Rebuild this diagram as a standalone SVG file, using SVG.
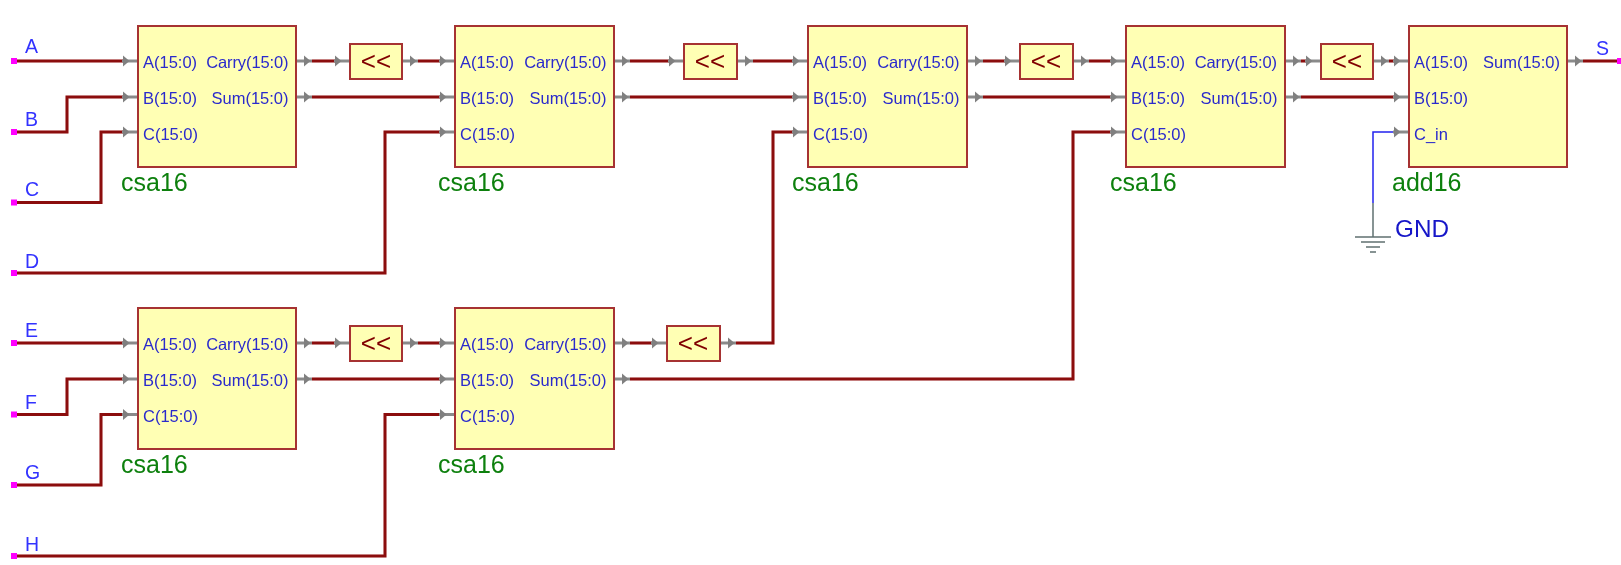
<svg xmlns="http://www.w3.org/2000/svg" width="1621" height="565" viewBox="0 0 1621 565">
<style>
text{font-family:"Liberation Sans",Arial,sans-serif}
svg>g{filter:url(#soft)}
.box{fill:#ffffb4;stroke:#a63030;stroke-width:2}
.port{font-size:16.5px;fill:#2a2acc}
.r{text-anchor:end}
.cy{letter-spacing:-.1px}
.type{font-size:25px;fill:#0c800c}
.sig{font-size:19.5px;fill:#3333ff}
.shl{font-size:26px;fill:#800000;text-anchor:middle}
.w{fill:none;stroke:#8b0a0a;stroke-width:3}
.bw{fill:none;stroke:#2222ee;stroke-width:1.5}
.g{fill:none;stroke:#5f7070;stroke-width:1.5}
.pl{stroke:#8a8a8a;stroke-width:3}
.pt{fill:#808080}
.term{fill:#ff00ff}
</style>
<defs>
<filter id="soft" x="-5%" y="-5%" width="110%" height="110%" filterUnits="objectBoundingBox"><feGaussianBlur stdDeviation="0.4"/></filter>
<g id="pin-in"><line class="pl" x1="-16" y1="0" x2="0" y2="0"/><path class="pt" d="M-15-5.500L-8.500 0L-15 5.500Z"/></g>
<g id="pin-out"><line class="pl" x1="0" y1="0" x2="16" y2="0"/><path class="pt" d="M8-5.500L14.500 0L8 5.500Z"/></g>
<rect id="term" class="term" x="-3" y="-3" width="6" height="6"/>
</defs>
<g id="connectors">
<path class="w" d="M14 61H123"/>
<path class="w" d="M14 132H67V97H123"/>
<path class="w" d="M14 202.500H101V132H123"/>
<path class="w" d="M14 273H385V132H440"/>
<path class="w" d="M14 343H123"/>
<path class="w" d="M14 414.500H67V379H123"/>
<path class="w" d="M14 485H101V414.500H123"/>
<path class="w" d="M14 556H385V414.500H440"/>
<path class="w" d="M312 61H335"/><path class="w" d="M418 61H440"/>
<path class="w" d="M312 97H440"/>
<path class="w" d="M312 343H335"/><path class="w" d="M418 343H440"/>
<path class="w" d="M312 379H440"/>
<path class="w" d="M630 61H669"/><path class="w" d="M753 61H793"/>
<path class="w" d="M630 97H793"/>
<path class="w" d="M630 343H652"/>
<path class="w" d="M736 343H773V132H793"/>
<path class="w" d="M630 379H1073V132H1111"/>
<path class="w" d="M983 61H1005"/><path class="w" d="M1089 61H1111"/>
<path class="w" d="M983 97H1111"/>
<path class="w" d="M1301 61H1306"/><path class="w" d="M1389 61H1394"/>
<path class="w" d="M1301 97H1394"/>
<path class="w" d="M1583 61H1621"/>
<path class="bw" d="M1394 132H1373V203"/>
<path class="g" d="M1373 203V237"/>
<path class="g" d="M1355 237H1391M1361 242H1385M1366 247H1380M1370 252H1376"/>
<use href="#pin-in" x="138" y="61"/><use href="#pin-in" x="138" y="97"/><use href="#pin-in" x="138" y="132"/>
<use href="#pin-out" x="296" y="61"/><use href="#pin-out" x="296" y="97"/>
<use href="#pin-in" x="350" y="61"/><use href="#pin-out" x="402" y="61"/>
<use href="#pin-in" x="455" y="61"/><use href="#pin-in" x="455" y="97"/><use href="#pin-in" x="455" y="132"/>
<use href="#pin-out" x="614" y="61"/><use href="#pin-out" x="614" y="97"/>
<use href="#pin-in" x="684" y="61"/><use href="#pin-out" x="737" y="61"/>
<use href="#pin-in" x="808" y="61"/><use href="#pin-in" x="808" y="97"/><use href="#pin-in" x="808" y="132"/>
<use href="#pin-out" x="967" y="61"/><use href="#pin-out" x="967" y="97"/>
<use href="#pin-in" x="1020" y="61"/><use href="#pin-out" x="1073" y="61"/>
<use href="#pin-in" x="1126" y="61"/><use href="#pin-in" x="1126" y="97"/><use href="#pin-in" x="1126" y="132"/>
<use href="#pin-out" x="1285" y="61"/><use href="#pin-out" x="1285" y="97"/>
<use href="#pin-in" x="1321" y="61"/><use href="#pin-out" x="1373" y="61"/>
<use href="#pin-in" x="1409" y="61"/><use href="#pin-in" x="1409" y="97"/><use href="#pin-in" x="1409" y="132"/>
<use href="#pin-out" x="1567" y="61"/>
<use href="#pin-in" x="138" y="343"/><use href="#pin-in" x="138" y="379"/><use href="#pin-in" x="138" y="414.500"/>
<use href="#pin-out" x="296" y="343"/><use href="#pin-out" x="296" y="379"/>
<use href="#pin-in" x="350" y="343"/><use href="#pin-out" x="402" y="343"/>
<use href="#pin-in" x="455" y="343"/><use href="#pin-in" x="455" y="379"/><use href="#pin-in" x="455" y="414.500"/>
<use href="#pin-out" x="614" y="343"/><use href="#pin-out" x="614" y="379"/>
<use href="#pin-in" x="667" y="343"/><use href="#pin-out" x="720" y="343"/>
</g>
<g id="sig-A"><use href="#term" x="14" y="61"/><text class="sig" x="25" y="53">A</text></g>
<g id="sig-B"><use href="#term" x="14" y="132"/><text class="sig" x="25" y="126">B</text></g>
<g id="sig-C"><use href="#term" x="14" y="202.500"/><text class="sig" x="25" y="196">C</text></g>
<g id="sig-D"><use href="#term" x="14" y="273"/><text class="sig" x="25" y="268">D</text></g>
<g id="sig-E"><use href="#term" x="14" y="343"/><text class="sig" x="25" y="337">E</text></g>
<g id="sig-F"><use href="#term" x="14" y="414.500"/><text class="sig" x="25" y="409">F</text></g>
<g id="sig-G"><use href="#term" x="14" y="485"/><text class="sig" x="25" y="479">G</text></g>
<g id="sig-H"><use href="#term" x="14" y="556"/><text class="sig" x="25" y="551">H</text></g>
<g id="sig-S"><use href="#term" x="1620" y="61"/><text class="sig" x="1596" y="55">S</text></g>
<g id="gnd"><text x="1395" y="237" style="font-size:24.300px;fill:#1414c8">GND</text></g>

<g id="csa1"><rect class="box" x="138" y="26" width="158" height="141"/><text class="port" x="143" y="68">A(15:0)</text><text class="port" x="143" y="104">B(15:0)</text><text class="port" x="143" y="140">C(15:0)</text><text class="port r cy" x="288.500" y="68">Carry(15:0)</text><text class="port r" x="288.500" y="104">Sum(15:0)</text><text class="type" x="121" y="191">csa16</text></g>
<g id="csa2"><rect class="box" x="455" y="26" width="159" height="141"/><text class="port" x="460" y="68">A(15:0)</text><text class="port" x="460" y="104">B(15:0)</text><text class="port" x="460" y="140">C(15:0)</text><text class="port r cy" x="606.500" y="68">Carry(15:0)</text><text class="port r" x="606.500" y="104">Sum(15:0)</text><text class="type" x="438" y="191">csa16</text></g>
<g id="csa3"><rect class="box" x="808" y="26" width="159" height="141"/><text class="port" x="813" y="68">A(15:0)</text><text class="port" x="813" y="104">B(15:0)</text><text class="port" x="813" y="140">C(15:0)</text><text class="port r cy" x="959.500" y="68">Carry(15:0)</text><text class="port r" x="959.500" y="104">Sum(15:0)</text><text class="type" x="792" y="191">csa16</text></g>
<g id="csa4"><rect class="box" x="1126" y="26" width="159" height="141"/><text class="port" x="1131" y="68">A(15:0)</text><text class="port" x="1131" y="104">B(15:0)</text><text class="port" x="1131" y="140">C(15:0)</text><text class="port r cy" x="1277" y="68">Carry(15:0)</text><text class="port r" x="1277.500" y="104">Sum(15:0)</text><text class="type" x="1110" y="191">csa16</text></g>
<g id="add16"><rect class="box" x="1409" y="26" width="158" height="141"/><text class="port" x="1414" y="68">A(15:0)</text><text class="port" x="1414" y="104">B(15:0)</text><text class="port" x="1414" y="140">C_in</text><text class="port r" x="1560" y="68">Sum(15:0)</text><text class="type" x="1392" y="191">add16</text></g>
<g id="csa5"><rect class="box" x="138" y="308" width="158" height="141"/><text class="port" x="143" y="350">A(15:0)</text><text class="port" x="143" y="386">B(15:0)</text><text class="port" x="143" y="422">C(15:0)</text><text class="port r cy" x="288.500" y="350">Carry(15:0)</text><text class="port r" x="288.500" y="386">Sum(15:0)</text><text class="type" x="121" y="473">csa16</text></g>
<g id="csa6"><rect class="box" x="455" y="308" width="159" height="141"/><text class="port" x="460" y="350">A(15:0)</text><text class="port" x="460" y="386">B(15:0)</text><text class="port" x="460" y="422">C(15:0)</text><text class="port r cy" x="606.500" y="350">Carry(15:0)</text><text class="port r" x="606.500" y="386">Sum(15:0)</text><text class="type" x="438" y="473">csa16</text></g>

<g id="shl1"><rect class="box" x="350" y="44" width="52" height="35"/><text class="shl" x="376" y="70">&lt;&lt;</text></g>
<g id="shl2"><rect class="box" x="684" y="44" width="53" height="35"/><text class="shl" x="710" y="70">&lt;&lt;</text></g>
<g id="shl3"><rect class="box" x="1020" y="44" width="53" height="35"/><text class="shl" x="1046" y="70">&lt;&lt;</text></g>
<g id="shl4"><rect class="box" x="1321" y="44" width="52" height="35"/><text class="shl" x="1347" y="70">&lt;&lt;</text></g>
<g id="shl5"><rect class="box" x="350" y="326" width="52" height="35"/><text class="shl" x="376" y="352">&lt;&lt;</text></g>
<g id="shl6"><rect class="box" x="667" y="326" width="53" height="35"/><text class="shl" x="693" y="352">&lt;&lt;</text></g>
</svg>
